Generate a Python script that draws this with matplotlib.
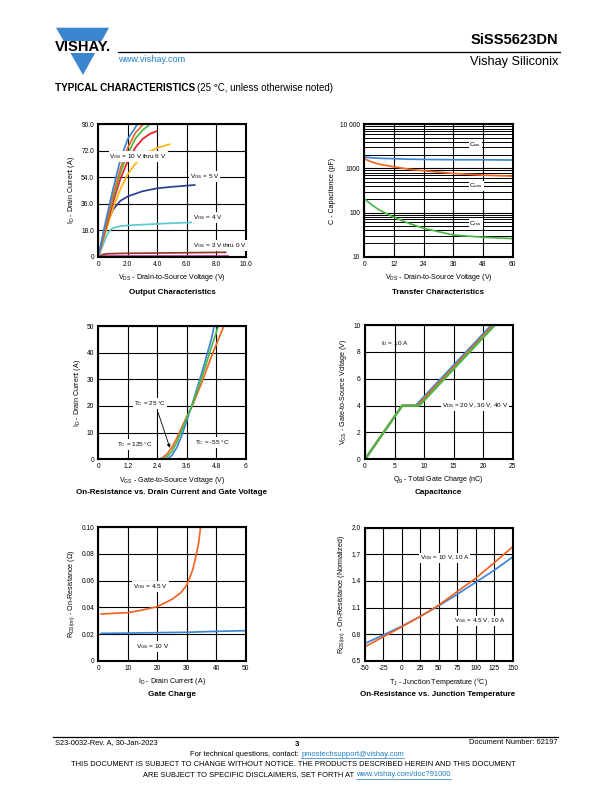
import numpy as np
import matplotlib
matplotlib.use("Agg")
import matplotlib.pyplot as plt
from matplotlib.patches import Polygon, Rectangle
from matplotlib.ticker import FixedLocator, LogLocator, NullFormatter

plt.rcParams['font.family'] = ['Liberation Sans', 'DejaVu Sans']
plt.rcParams['mathtext.fontset'] = 'custom'
plt.rcParams['mathtext.rm'] = 'Liberation Sans'
plt.rcParams['mathtext.it'] = 'Liberation Sans:italic'
plt.rcParams['mathtext.bf'] = 'Liberation Sans:bold'
plt.rcParams['axes.unicode_minus'] = False

# === data: output characteristics (VDS, ID) ===
out_vds_10 = [0, 0.5, 1.0, 1.5, 2.0, 2.65]
out_id_10 = [0, 24, 46, 66, 80, 90]
out_vds_9 = [0, 0.5, 1.0, 1.5, 2.0, 2.5, 3.05]
out_id_9 = [0, 22, 42, 60, 74, 84, 90]
out_vds_8 = [0, 0.5, 1.0, 1.5, 2.0, 2.5, 3.0, 3.5]
out_id_8 = [0, 21, 40, 57, 70, 80, 86, 90]
out_vds_7 = [0, 0.5, 1.0, 1.5, 2.0, 2.5, 3.0, 3.5, 4.0]
out_id_7 = [0, 19, 37, 53, 65, 74, 80, 83.5, 85.5]
out_vds_6 = [0, 0.5, 1.0, 1.5, 2.0, 2.5, 3.0, 3.5, 4.0, 4.5, 4.9]
out_id_6 = [0, 17, 33, 46, 56, 63, 68, 71.5, 74, 75.5, 76.5]
out_vds_5 = [0, 0.25, 0.5, 0.75, 1.0, 1.5, 2.0, 3.0, 4.0, 5.0, 6.6]
out_id_5 = [0, 9, 18, 26, 32, 38, 41, 44.5, 46.5, 47.5, 48.8]
out_vds_4 = [0, 0.2, 0.4, 0.6, 0.8, 1.0, 1.5, 2.0, 3.0, 4.0, 5.0, 6.9]
out_id_4 = [0, 5, 10, 15, 18, 19.5, 20.8, 21.3, 21.8, 22.3, 22.8, 23.5]
out_vds_3 = [0, 0.3, 0.6, 2.0, 5.0, 8.7]
out_id_3 = [0, 1.5, 2.0, 2.3, 2.6, 3.0]
out_vds_0 = [0, 8.9]
out_id_0 = [0.3, 0.3]

# === data: capacitance (VDS, pF) ===
cap_vds = [0, 3, 6, 12, 18, 24, 36, 48, 60]
cap_ciss = [1810, 1740, 1700, 1660, 1620, 1600, 1575, 1570, 1550]
cap_coss = [1660, 1400, 1250, 1090, 960, 885, 770, 705, 670]
cap_crss = [205, 150, 115, 78, 57, 44, 31, 27.6, 25.7]

# === data: transfer characteristics (VGS, ID) ===
tr_vgs_125 = [0, 2.4, 2.6, 2.8, 3.0, 3.2, 3.4, 3.6, 3.8, 4.0, 4.2, 4.4, 4.6, 4.8, 5.0, 5.11]
tr_id_125 = [0, 0, 0.5, 2, 4.5, 8, 12, 16, 19.5, 24, 28.5, 33.5, 38.5, 43, 47.5, 50]
tr_vgs_25 = [0, 2.6, 2.8, 3.0, 3.2, 3.4, 3.6, 3.8, 4.0, 4.2, 4.4, 4.6, 4.8, 4.88]
tr_id_25 = [0, 0, 1, 3, 6.5, 11, 15.5, 20, 25, 30.5, 36, 42, 47.5, 50]
tr_vgs_m55 = [0, 2.8, 3.0, 3.2, 3.4, 3.6, 3.8, 4.0, 4.2, 4.4, 4.6, 4.72]
tr_id_m55 = [0, 0, 1.5, 4.5, 9, 14.5, 20, 26, 32, 38.5, 45, 50]

# === data: gate charge (Qg, VGS) ===
qg_20 = [0, 6.3, 8.6, 21.45]
qg_30 = [0, 6.3, 8.9, 21.75]
qg_40 = [0, 6.3, 9.2, 22.0]
qg_vgs = [0, 4, 4, 10]

# === data: on-resistance vs drain current ===
rds_id_45 = [1, 5, 10, 15, 20, 25, 28, 30, 32, 33, 34, 34.7]
rds_45 = [0.035, 0.0355, 0.036, 0.038, 0.0405, 0.046, 0.051, 0.0567, 0.068, 0.077, 0.088, 0.100]
rds_id_10 = [1, 10, 20, 30, 40, 50]
rds_10 = [0.0205, 0.0207, 0.021, 0.0213, 0.022, 0.0225]

# === data: normalized on-resistance vs temperature ===
tj = [-50, -25, 0, 25, 50, 75, 100, 125, 150]
rn_10v = [0.658, 0.77, 0.883, 1.0, 1.128, 1.28, 1.43, 1.605, 1.785]
rn_45v = [0.695, 0.79, 0.89, 1.0, 1.12, 1.25, 1.385, 1.52, 1.67]

BLUE = '#3d84d6'
ORANGE = '#f26522'
GREEN = '#4cb848'
RED = '#ee1c25'
GOLD = '#fdb913'
NAVY = '#2b3f96'
CYAN = '#5cc9d3'
BROWN = '#8c3b26'
PINK = '#cc3399'
LINKBLUE = '#1f7dc4'

TICK_FS = 4.8
AXLAB_FS = 5.1
NOTE_FS = 4.6

W, H = 612, 792
fig = plt.figure(figsize=(W / 100, H / 100), dpi=100)

# full-page overlay in pixel coords for header/footer
page = fig.add_axes([0, 0, 1, 1])
page.set_xlim(0, W)
page.set_ylim(H, 0)
page.axis('off')


def make_ax(x0, y0, x1, y1):
    ax = fig.add_axes([x0 / W, 1 - y1 / H, (x1 - x0) / W, (y1 - y0) / H])
    for s in ax.spines.values():
        s.set_linewidth(1.5)
    ax.tick_params(length=0, labelsize=TICK_FS, pad=3)
    ax.grid(True, color='black', linewidth=0.8)
    ax.set_axisbelow(True)
    return ax


def label(ax, x, y, s, **kw):
    ax.text(x, y, s, fontsize=NOTE_FS, bbox=dict(facecolor='white', edgecolor='none', pad=0.6), zorder=5, **kw)


def sub(a, b):
    return a + r'$_{\mathregular{' + b + '}}$'


def title(xc, y, s):
    page.text(xc, y, s, fontsize=5.8, fontweight='bold', ha='center', va='center')


# --- Output characteristics ---
ax1 = make_ax(98.3, 124.3, 245.7, 256.7)
for vx, iy, c in [(out_vds_0, out_id_0, PINK), (out_vds_3, out_id_3, BROWN),
                  (out_vds_4, out_id_4, CYAN), (out_vds_5, out_id_5, NAVY),
                  (out_vds_6, out_id_6, GOLD), (out_vds_7, out_id_7, RED),
                  (out_vds_8, out_id_8, GREEN), (out_vds_9, out_id_9, ORANGE),
                  (out_vds_10, out_id_10, BLUE)]:
    ax1.plot(vx, iy, color=c, lw=1.25, solid_capstyle='butt')
ax1.set_xlim(0, 10)
ax1.set_ylim(0, 90)
ax1.xaxis.set_major_locator(FixedLocator([0, 2, 4, 6, 8, 10]))
ax1.yaxis.set_major_locator(FixedLocator([0, 18, 36, 54, 72, 90]))
ax1.set_xticklabels(['0', '2.0', '4.0', '6.0', '8.0', '10.0'])
ax1.set_yticklabels(['0', '18.0', '36.0', '54.0', '72.0', '90.0'])
ax1.set_xlabel(sub('V', 'DS') + ' - Drain-to-Source Voltage (V)', fontsize=AXLAB_FS, labelpad=3)
ax1.set_ylabel(sub('I', 'D') + ' - Drain Current (A)', fontsize=AXLAB_FS, labelpad=3)
label(ax1, 0.75, 68, sub('V', 'GS') + ' = 10 V thru 6 V', va='center')
label(ax1, 6.2, 54.5, sub('V', 'GS') + ' = 5 V', va='center')
label(ax1, 6.4, 26.5, sub('V', 'GS') + ' = 4 V', va='center')
label(ax1, 6.4, 7.5, sub('V', 'GS') + ' = 3 V thru 0 V', va='center')
title(172, 292, 'Output Characteristics')

# --- Capacitance ---
ax2 = make_ax(364.3, 124.3, 512.7, 256.7)
ax2.plot(cap_vds, cap_coss, color=ORANGE, lw=1.25)
ax2.plot(cap_vds, cap_ciss, color=BLUE, lw=1.25)
ax2.plot(cap_vds, cap_crss, color=GREEN, lw=1.25)
ax2.set_yscale('log')
ax2.set_xlim(0, 60)
ax2.set_ylim(10, 10000)
ax2.xaxis.set_major_locator(FixedLocator([0, 12, 24, 36, 48, 60]))
ax2.yaxis.set_major_locator(FixedLocator([10, 100, 1000, 10000]))
ax2.set_yticklabels(['10', '100', '1000', '10 000'])
ax2.yaxis.set_minor_locator(LogLocator(base=10, subs=np.arange(2, 10)))
ax2.yaxis.set_minor_formatter(NullFormatter())
ax2.tick_params(which='minor', length=0)
ax2.grid(True, which='minor', axis='y', color='black', linewidth=0.7)
ax2.set_xlabel(sub('V', 'DS') + ' - Drain-to-Source Voltage (V)', fontsize=AXLAB_FS, labelpad=3)
ax2.set_ylabel('C - Capacitance (pF)', fontsize=AXLAB_FS, labelpad=3)
label(ax2, 42.5, 3400, sub('C', 'iss'), va='center')
label(ax2, 42.5, 400, sub('C', 'oss'), va='center')
label(ax2, 42.5, 57, sub('C', 'rss'), va='center')
title(438, 292, 'Transfer Characteristics')

# --- Transfer characteristics ---
ax3 = make_ax(98.3, 326, 245.7, 459.3)
ax3.plot(tr_vgs_125, tr_id_125, color=ORANGE, lw=1.25)
ax3.plot(tr_vgs_m55, tr_id_m55, color=BLUE, lw=1.25)
ax3.plot(tr_vgs_25, tr_id_25, color=GREEN, lw=1.25)
ax3.set_xlim(0, 6)
ax3.set_ylim(0, 50)
ax3.xaxis.set_major_locator(FixedLocator([0, 1.2, 2.4, 3.6, 4.8, 6]))
ax3.set_xticklabels(['0', '1.2', '2.4', '3.6', '4.8', '6'])
ax3.yaxis.set_major_locator(FixedLocator([0, 10, 20, 30, 40, 50]))
ax3.set_xlabel(sub('V', 'GS') + ' - Gate-to-Source Voltage (V)', fontsize=AXLAB_FS, labelpad=3)
ax3.set_ylabel(sub('I', 'D') + ' - Drain Current (A)', fontsize=AXLAB_FS, labelpad=3)
label(ax3, 1.45, 21, sub('T', 'C') + ' = 25 °C', va='center')
ax3.annotate('', xy=(2.95, 3.3), xytext=(2.4, 18.5),
             arrowprops=dict(arrowstyle='-|>', color='black', lw=0.6, mutation_scale=5), zorder=6)
label(ax3, 0.75, 5.5, sub('T', 'C') + ' = 125 °C', va='center')
label(ax3, 3.95, 6.3, sub('T', 'C') + ' = -55 °C', va='center')
title(172, 492, 'On-Resistance vs. Drain Current and Gate Voltage')

# --- Gate charge ---
ax4 = make_ax(365, 325, 512.7, 459.3)
ax4.plot(qg_20, qg_vgs, color=BLUE, lw=1.6)
ax4.plot(qg_30, qg_vgs, color=ORANGE, lw=1.6)
ax4.plot(qg_40, qg_vgs, color=GREEN, lw=1.6)
ax4.set_xlim(0, 25)
ax4.set_ylim(0, 10)
ax4.xaxis.set_major_locator(FixedLocator([0, 5, 10, 15, 20, 25]))
ax4.yaxis.set_major_locator(FixedLocator([0, 2, 4, 6, 8, 10]))
ax4.set_xlabel(sub('Q', 'g') + ' - Total Gate Charge (nC)', fontsize=AXLAB_FS, labelpad=3)
ax4.set_ylabel(sub('V', 'GS') + ' - Gate-to-Source Voltage (V)', fontsize=AXLAB_FS, labelpad=3)
ax4.text(2.7, 8.6, sub('I', 'D') + ' = 10 A', fontsize=NOTE_FS, va='center')
label(ax4, 13.0, 4.0, sub('V', 'DS') + ' = 20 V, 30 V, 40 V', va='center')
title(438, 492, 'Capacitance')

# --- On-resistance vs drain current ---
ax5 = make_ax(98.3, 527.3, 245.7, 660.7)
ax5.plot(rds_id_45, rds_45, color=ORANGE, lw=1.25)
ax5.plot(rds_id_10, rds_10, color=BLUE, lw=1.25)
ax5.set_xlim(0, 50)
ax5.set_ylim(0, 0.10)
ax5.xaxis.set_major_locator(FixedLocator([0, 10, 20, 30, 40, 50]))
ax5.yaxis.set_major_locator(FixedLocator([0, 0.02, 0.04, 0.06, 0.08, 0.10]))
ax5.set_yticklabels(['0', '0.02', '0.04', '0.06', '0.08', '0.10'])
ax5.set_xlabel(sub('I', 'D') + ' - Drain Current (A)', fontsize=AXLAB_FS, labelpad=3)
ax5.set_ylabel(sub('R', 'DS(on)') + ' - On-Resistance (Ω)', fontsize=AXLAB_FS, labelpad=3)
label(ax5, 11.7, 0.0555, sub('V', 'GS') + ' = 4.5 V', va='center')
label(ax5, 12.7, 0.0105, sub('V', 'GS') + ' = 10 V', va='center')
title(172, 694, 'Gate Charge')

# --- On-resistance vs temperature ---
ax6 = make_ax(365, 527.7, 512.7, 660.7)
ax6.plot(tj, rn_45v, color=BLUE, lw=1.25)
ax6.plot(tj, rn_10v, color=ORANGE, lw=1.25)
ax6.set_xlim(-50, 150)
ax6.set_ylim(0.5, 2.0)
ax6.xaxis.set_major_locator(FixedLocator([-50, -25, 0, 25, 50, 75, 100, 125, 150]))
ax6.yaxis.set_major_locator(FixedLocator([0.5, 0.8, 1.1, 1.4, 1.7, 2.0]))
ax6.set_yticklabels(['0.5', '0.8', '1.1', '1.4', '1.7', '2.0'])
ax6.set_xlabel(sub('T', 'J') + ' - Junction Temperature (°C)', fontsize=AXLAB_FS, labelpad=3)
ax6.set_ylabel(sub('R', 'DS(on)') + ' - On-Resistance (Normalized)', fontsize=AXLAB_FS, labelpad=3)
label(ax6, 24, 1.66, sub('V', 'GS') + ' = 10 V, 10 A', va='center')
label(ax6, 71, 0.95, sub('V', 'GS') + ' = 4.5 V, 10 A', va='center')
title(438, 694, 'On-Resistance vs. Junction Temperature')

# --- header ---
page.add_patch(Polygon([[56, 27.7], [109, 27.7], [83, 75]], closed=True, color='#3b86cf', lw=0))
page.add_patch(Rectangle((50, 41.0), 63, 12.0, color='white', lw=0))
page.text(82.5, 47.3, 'VISHAY.', fontsize=10.6, fontweight='bold', ha='center', va='center')
page.plot([118, 560], [52.3, 52.3], color='black', lw=0.9)
page.text(118, 60, 'www.vishay.com', fontsize=6.6, color=LINKBLUE, va='center')
page.text(558, 40.5, 'SiSS5623DN', fontsize=10.6, fontweight='bold', ha='right', va='center')
page.text(558, 61.5, 'Vishay Siliconix', fontsize=9.2, ha='right', va='center')
t = page.text(55, 88, 'TYPICAL CHARACTERISTICS', fontsize=7.2, fontweight='bold', va='center')
fig.canvas.draw()
r = fig.canvas.get_renderer()
inv = page.transData.inverted()


def right_of(txt):
    bb = txt.get_window_extent(renderer=r)
    return inv.transform((bb.x1, bb.y0))[0]


page.text(right_of(t) + 2, 88, '(25 °C, unless otherwise noted)', fontsize=7.0, va='center')

# --- footer ---
FOOT_FS = 5.4
page.plot([53, 558], [736.7, 736.7], color='black', lw=0.9)
page.text(55, 743, 'S23-0032-Rev. A, 30-Jan-2023', fontsize=FOOT_FS, va='center')
page.text(297, 744, '3', fontsize=5.6, fontweight='bold', ha='center', va='center')
page.text(558, 743, 'Document Number: 62197', fontsize=FOOT_FS, ha='right', va='center')


def linked_line(y, plain, link, xc):
    a = page.text(0, y, plain, fontsize=FOOT_FS, va='center')
    b = page.text(0, y, link, fontsize=FOOT_FS, va='center', color=LINKBLUE)
    fig.canvas.draw()
    wa = right_of(a)
    wb = right_of(b)
    x0 = xc - (wa + wb) / 2
    a.set_x(x0)
    b.set_x(x0 + wa)
    page.plot([x0 + wa, x0 + wa + wb], [y + 3.6, y + 3.6], color=LINKBLUE, lw=0.5)


linked_line(754, 'For technical questions, contact: ', 'pmostechsupport@vishay.com', 297)
page.text(293, 765, 'THIS DOCUMENT IS SUBJECT TO CHANGE WITHOUT NOTICE. THE PRODUCTS DESCRIBED HEREIN AND THIS DOCUMENT',
          fontsize=FOOT_FS, ha='center', va='center')
linked_line(775, 'ARE SUBJECT TO SPECIFIC DISCLAIMERS, SET FORTH AT ', 'www.vishay.com/doc?91000', 297)

fig.savefig('out.png', dpi=100)
